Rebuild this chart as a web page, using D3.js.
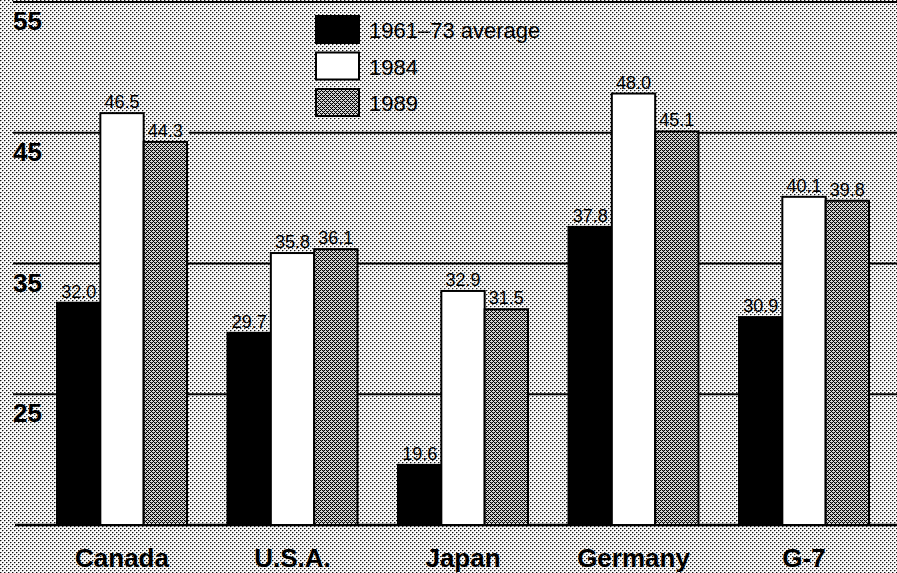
<!DOCTYPE html>
<html>
<head>
<meta charset="utf-8">
<script src="https://cdn.jsdelivr.net/npm/d3@7"></script>
<style>
  html, body { margin: 0; padding: 0; background: #ffffff; }
  svg { display: block; }
</style>
</head>
<body>
<svg id="chart" width="897" height="573"></svg>
<script>
// Chart data
const categories = ["Canada", "U.S.A.", "Japan", "Germany", "G-7"];
const seriesNames = ["1961–73 average", "1984", "1989"];
const avg1961to73 = [32.0, 29.7, 19.6, 37.8, 30.9];
const val1984 = [46.5, 35.8, 32.9, 48.0, 40.1];
const val1989 = [44.3, 36.1, 31.5, 45.1, 39.8];
const yTicks = [25, 35, 45, 55];
const yBase = 15;

const seriesValues = [avg1961to73, val1984, val1989];

const W = 897, H = 573;
const svg = d3.select("#chart");
const defs = svg.append("defs");

// Builds a tiled halftone pattern from a list of [x, y, colour] pixels
function halftone(id, size, base, pixels) {
  const p = defs.append("pattern")
    .attr("id", id).attr("patternUnits", "userSpaceOnUse")
    .attr("width", size).attr("height", size);
  p.append("rect").attr("width", size).attr("height", size).attr("fill", base);
  pixels.forEach(([px, py, c]) => {
    p.append("rect").attr("x", px).attr("y", py)
      .attr("width", 1).attr("height", 1).attr("fill", c)
      .attr("shape-rendering", "crispEdges");
  });
}

// Light diagonal dot screen for the page background
halftone("bgDots", 4, "#fafafa", [
  [0, 0, "#111"], [2, 2, "#111"],
  [1, 0, "#9a9a9a"], [3, 2, "#9a9a9a"],
  [0, 1, "#c8c8c8"], [2, 3, "#c8c8c8"]
]);

// Denser dot screen for the 1989 series
halftone("barDots", 4, "#d8d8d8", [
  [0, 0, "#000"], [2, 2, "#000"], [1, 1, "#000"], [3, 3, "#000"],
  [2, 0, "#000"], [0, 2, "#000"],
  [1, 0, "#777"], [3, 2, "#777"]
]);

const fills = ["#000000", "#ffffff", "url(#barDots)"];

svg.append("rect").attr("width", W).attr("height", H).attr("fill", "url(#bgDots)");

const font = "'Liberation Sans', Arial, Helvetica, sans-serif";

// Scales
const y = d3.scaleLinear().domain([yBase, 55]).range([525, 2]);
const x0 = d3.scaleBand().domain(categories).range([57, 869]).paddingInner(0.2375).paddingOuter(0);
const x1 = d3.scaleBand().domain(d3.range(seriesNames.length)).range([0, x0.bandwidth()]);

// Gridlines and tick labels
svg.append("g").selectAll("line").data(yTicks).join("line")
  .attr("x1", 13).attr("x2", W)
  .attr("y1", d => y(d)).attr("y2", d => y(d))
  .attr("stroke", "#000").attr("stroke-width", 2);

svg.append("g").selectAll("text").data(yTicks).join("text")
  .attr("x", 13).attr("y", d => y(d) + 28)
  .attr("font-family", font).attr("font-weight", "bold").attr("font-size", 26)
  .attr("fill", "#000")
  .text(d => d);

// Baseline
svg.append("line")
  .attr("x1", 15).attr("x2", W)
  .attr("y1", y(yBase)).attr("y2", y(yBase))
  .attr("stroke", "#000").attr("stroke-width", 2.5);

// Flattened bar records
const bars = [];
categories.forEach((c, i) => {
  seriesValues.forEach((vals, s) => {
    bars.push({ cat: c, s: s, v: vals[i] });
  });
});

// Value labels sit on a patch of background that masks the gridlines
const labels = svg.append("g").selectAll("g").data(bars).join("g");
labels.append("rect").attr("class", "knock").attr("fill", "url(#bgDots)");
labels.append("text")
  .attr("x", d => x0(d.cat) + x1(d.s) + x1.bandwidth() / 2)
  .attr("y", d => y(d.v) - 5)
  .attr("text-anchor", "middle")
  .attr("font-family", font).attr("font-size", 18)
  .attr("fill", "#000")
  .text(d => d.v.toFixed(1));
labels.each(function (d) {
  const g = d3.select(this);
  const bb = g.select("text").node().getBBox();
  g.select("rect.knock")
    .attr("x", bb.x - 6).attr("width", bb.width + 12)
    .attr("y", bb.y - 1).attr("height", y(d.v) - bb.y + 1);
});

// Bars
svg.append("g").selectAll("rect").data(bars).join("rect")
  .attr("x", d => x0(d.cat) + x1(d.s))
  .attr("y", d => y(d.v))
  .attr("width", x1.bandwidth())
  .attr("height", d => y(yBase) - y(d.v))
  .attr("fill", d => fills[d.s])
  .attr("stroke", "#000").attr("stroke-width", 2);

// Category labels
svg.append("g").selectAll("text").data(categories).join("text")
  .attr("x", d => x0(d) + x0.bandwidth() / 2)
  .attr("y", 567)
  .attr("text-anchor", "middle")
  .attr("font-family", font).attr("font-weight", "bold").attr("font-size", 26)
  .attr("fill", "#000")
  .text(d => d);

// Legend
const legend = svg.append("g").attr("transform", "translate(316,16)");
const leg = legend.selectAll("g").data(seriesNames).join("g")
  .attr("transform", (d, i) => `translate(0,${i * 36.5})`);
leg.append("rect")
  .attr("width", 43).attr("height", 27)
  .attr("fill", (d, i) => fills[i])
  .attr("stroke", "#000").attr("stroke-width", 2);
leg.append("text")
  .attr("x", 53).attr("y", 22)
  .attr("font-family", font).attr("font-size", 22)
  .attr("fill", "#000")
  .text(d => d);
</script>
</body>
</html>
